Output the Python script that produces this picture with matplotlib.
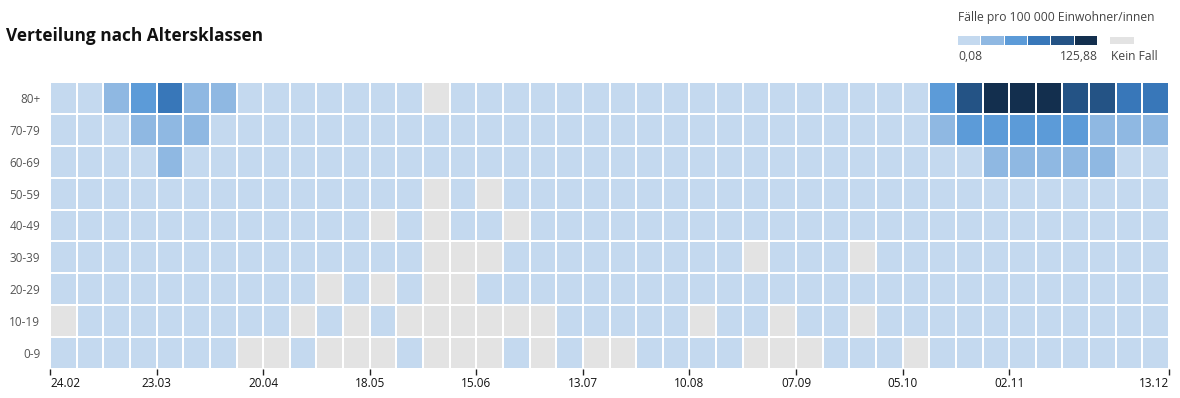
import numpy as np
import pandas as pd
import matplotlib
matplotlib.use("Agg")
import matplotlib.pyplot as plt
from matplotlib.colors import ListedColormap, BoundaryNorm
from matplotlib.patches import Rectangle

plt.rcParams["font.family"] = ["Open Sans", "DejaVu Sans"]

# weekly incidence per 100 000 inhabitants, 0 = no case (Kein Fall)
age_groups = ["80+", "70-79", "60-69", "50-59", "40-49", "30-39", "20-29", "10-19", "0-9"]

inc_80plus = [2.1, 9.5, 28, 55, 70, 35, 24, 15, 11, 8,
              5, 4, 3, 2.5, 0, 1.5, 2, 1.2, 1, 2.2,
              1.8, 2.5, 3, 2.2, 1.6, 2.4, 3.1, 2.7, 3.5, 4.2,
              6, 9, 14, 48, 92, 112, 125.88, 118, 101, 88,
              78, 73]
inc_70_79 = [1.2, 5, 14, 26, 34, 23, 13, 8, 5, 3.5,
             2.6, 1.8, 1.5, 1.2, 1.4, 1.1, 0.9, 1.3, 1.6, 1.2,
             1.8, 2.1, 1.7, 2.4, 2.9, 2.2, 3.1, 2.6, 3.4, 4.5,
             6.5, 10, 17, 33, 48, 58, 61, 57, 46, 39,
             31, 28]
inc_60_69 = [1.5, 6, 12, 19, 22, 15, 9, 5.5, 3.2, 2.2,
             1.6, 1.3, 0.9, 1.1, 0.8, 0.7, 1.0, 1.2, 1.4, 1.9,
             2.3, 2.0, 2.6, 2.4, 2.1, 2.8, 3.3, 3.0, 3.9, 5.2,
             7.4, 11, 15, 18, 20.5, 24, 27, 28, 26, 22,
             19, 17]
inc_50_59 = [0.9, 5.5, 12, 16, 14, 11, 8, 5, 3.1, 2.0,
             1.4, 0.9, 0.6, 0.4, 0, 0.3, 0, 0.5, 0.8, 1.1,
             1.5, 1.4, 1.9, 2.2, 1.8, 2.5, 2.3, 2.0, 2.7, 3.1,
             2.9, 3.8, 5.0, 7.5, 11, 14, 16, 17, 16.5, 15,
             13, 12]
inc_40_49 = [0.7, 4.8, 10, 13, 12, 9, 6.5, 4, 2.5, 1.6,
             1.0, 0.6, 0, 0.3, 0, 0.2, 0.4, 0, 0.6, 1.0,
             1.3, 1.5, 1.8, 2.3, 1.9, 2.6, 2.2, 2.1, 2.8, 3.2,
             3.0, 3.9, 5.2, 7.8, 11, 13, 14, 14.5, 13.5, 12.5,
             11, 10]
inc_30_39 = [0.5, 3.9, 8, 10, 9, 7, 5, 3, 2, 1.3,
             0.8, 0.5, 0.3, 0.2, 0, 0, 0, 0.4, 0.7, 1.1,
             1.4, 1.7, 2.1, 2.6, 2.0, 2.4, 0, 2.2, 2.9, 3.3,
             0, 3.7, 4.9, 7.4, 10, 12, 13, 13.5, 12.5, 11.5,
             10, 9.5]
inc_20_29 = [0.4, 3.5, 7, 9, 8, 6, 4.2, 2.6, 1.5, 0.9,
             0, 0.5, 0, 0.3, 0, 0, 0.6, 0.9, 1.3, 1.8,
             2.2, 2.6, 3.1, 3.5, 2.8, 3.2, 2.7, 3.0, 3.6, 4.1,
             4.4, 5.0, 6.2, 8.8, 12, 14, 15, 15.5, 14, 13,
             12, 11]
inc_10_19 = [0, 1.2, 2.4, 3.1, 2.8, 2.2, 1.6, 1.0, 0.5, 0,
             0.3, 0, 0.2, 0, 0, 0, 0, 0, 0, 0.4,
             0.7, 1.0, 1.3, 1.1, 0, 1.5, 1.2, 0, 1.6, 2.0,
             0, 2.4, 3.1, 4.6, 6.5, 8, 9, 9.5, 9, 8.5,
             8, 7.5]
inc_0_9 = [0.08, 0.5, 1.1, 1.4, 1.2, 0.9, 0.4, 0, 0, 0.2,
           0, 0, 0, 0.2, 0, 0, 0, 0.3, 0, 0.4,
           0, 0, 0.5, 0.6, 0.8, 0.7, 0, 0, 0, 0.9,
           1.1, 1.4, 0, 2.0, 2.8, 3.5, 3.9, 4.2, 4.0, 3.7,
           3.4, 3.1]

first_week = "2020-02-24"
colors = ["#c4d9ef", "#8fb8e2", "#5c9bd8", "#3877b9", "#245385", "#132f4e"]
no_case_color = "#e3e3e3"

data = np.array([inc_80plus, inc_70_79, inc_60_69, inc_50_59, inc_40_49,
                 inc_30_39, inc_20_29, inc_10_19, inc_0_9])
n_rows, n_weeks = data.shape
weeks = pd.date_range(first_week, periods=n_weeks, freq="7D")

vmin = data[data > 0].min()
vmax = data.max()
bounds = np.linspace(vmin, vmax, len(colors) + 1)
cmap = ListedColormap(colors).with_extremes(under=no_case_color)
norm = BoundaryNorm(bounds, len(colors))

W, H = 1180, 398
fig = plt.figure(figsize=(W / 100, H / 100), dpi=100)
ax = fig.add_axes([50 / W, 1 - 369 / H, 1119 / W, 287 / H])

ax.pcolormesh(np.arange(n_weeks + 1), np.arange(n_rows + 1), data,
              cmap=cmap, norm=norm, edgecolors="white", linewidth=1.4)
ax.set_xlim(0, n_weeks)
ax.set_ylim(n_rows, 0)

ax.set_yticks(np.arange(n_rows) + 0.5)
ax.set_yticklabels(age_groups, fontsize=8.5, color="#555555")
ax.tick_params(axis="y", length=0, pad=7)

# every 4th week start, plus the end of the last week
tick_pos = list(range(0, n_weeks - 4, 4)) + [n_weeks]
tick_lab = [weeks[i].strftime("%d.%m") for i in tick_pos[:-1]]
tick_lab.append((weeks[-1] + pd.Timedelta(days=6)).strftime("%d.%m"))
ax.set_xticks(tick_pos)
ax.set_xticklabels(tick_lab, fontsize=8.5, color="#111111")
ax.tick_params(axis="x", length=4, width=1, color="#222222", pad=2)
xt = ax.get_xticklabels()
xt[0].set_horizontalalignment("left")
xt[-1].set_horizontalalignment("right")

for s in ax.spines.values():
    s.set_visible(False)

fig.text(6 / W, 1 - 36 / H, "Verteilung nach Altersklassen",
         fontsize=12.4, fontweight="bold", color="#111111", va="center")

# legend
fig.text(958 / W, 1 - 18 / H, "Fälle pro 100 000 Einwohner/innen",
         fontsize=8.7, color="#444444", va="center")
box_w = 140 / len(colors)
for i, c in enumerate(colors):
    fig.add_artist(Rectangle(((958 + i * box_w) / W, 1 - 45 / H), (box_w - 1) / W, 9 / H,
                             transform=fig.transFigure, color=c, lw=0))
fig.add_artist(Rectangle((1110 / W, 1 - 44 / H), 24 / W, 7 / H,
                         transform=fig.transFigure, color=no_case_color, lw=0))
fig.text(958 / W, 1 - 57 / H, f"{vmin:.2f}".replace(".", ","),
         fontsize=8.7, color="#444444", va="center")
fig.text(1098 / W, 1 - 57 / H, f"{vmax:.2f}".replace(".", ","),
         fontsize=8.7, color="#444444", va="center", ha="right")
fig.text(1111 / W, 1 - 57 / H, "Kein Fall",
         fontsize=8.7, color="#444444", va="center")

fig.savefig("out.png", dpi=100, facecolor="white")
